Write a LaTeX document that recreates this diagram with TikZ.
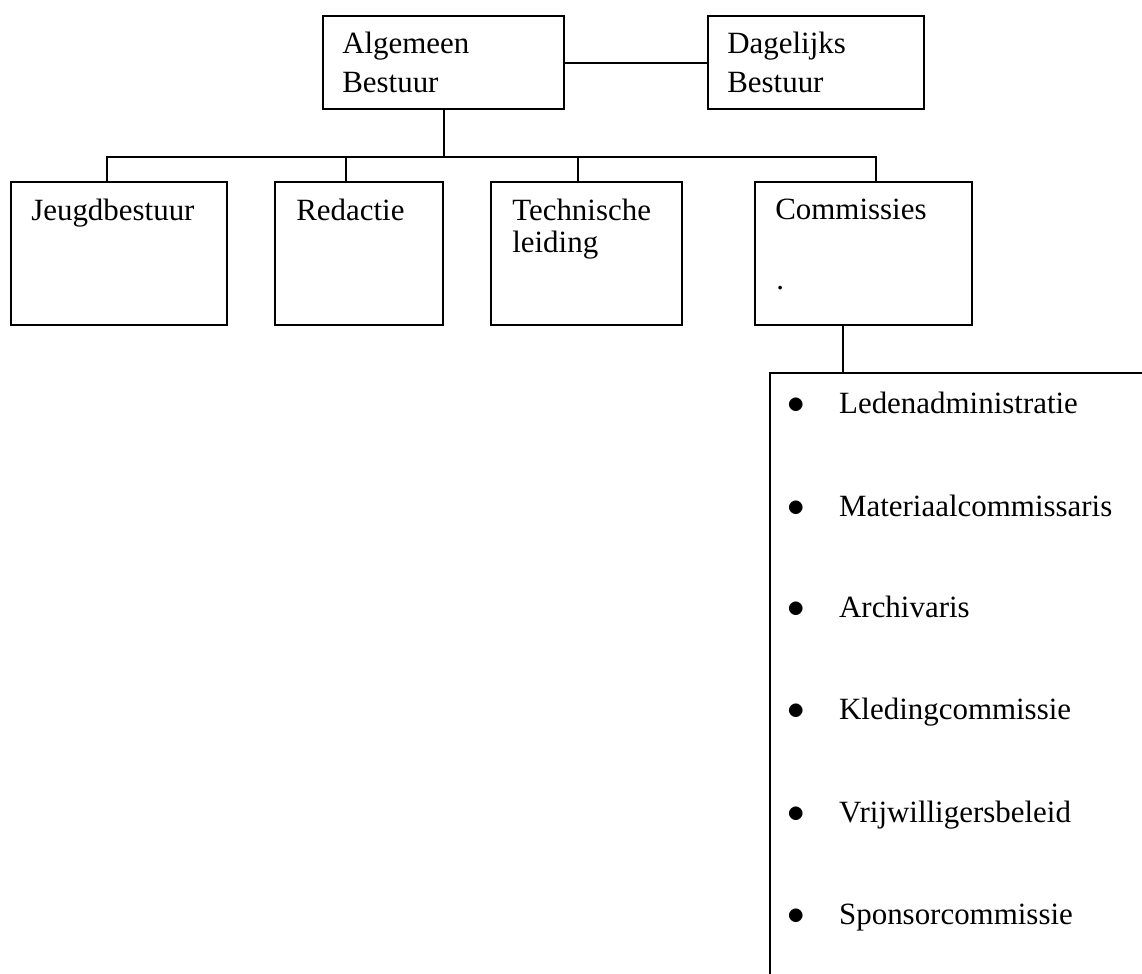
\documentclass[tikz,border=0pt]{standalone}
\usepackage{fontspec}
\setmainfont{Liberation Serif}
\usetikzlibrary{calc}
\pgfdeclarelayer{bglayer}
\pgfdeclarelayer{edgelayer}
\pgfdeclarelayer{nodelayer}
\pgfsetlayers{bglayer,edgelayer,nodelayer,main}
\tikzstyle{box}=[draw=black,line width=1.5pt,anchor=north west,inner sep=0pt]
\tikzstyle{txt}=[anchor=north west,inner sep=0pt,align=left,font=\fontsize{22pt}{27.5pt}\selectfont]
\tikzstyle{item}=[anchor=base west,inner sep=0pt,font=\fontsize{22pt}{27.5pt}\selectfont]
\tikzstyle{conn}=[draw=black,line width=1.5pt]
\tikzset{boxsize/.style 2 args={minimum width=#1*0.025cm,minimum height=#2*0.025cm}}

\begin{document}
\begin{tikzpicture}[x=0.025cm,y=-0.025cm]
        \begin{pgfonlayer}{bglayer}
            \fill [white] (0,0) rectangle (1142,973);
        \end{pgfonlayer}
        \useasboundingbox (0,0) rectangle (1142,973);

        \begin{pgfonlayer}{nodelayer}
            \node [box, boxsize={241}{93}] (ab) at (322,15) {};
            \node [box, boxsize={216}{93}] (db) at (707,15) {};
            \node [txt] (ab_txt) at (342,32) {Algemeen\\Bestuur};
            \node [txt] (db_txt) at (727,32) {Dagelijks\\Bestuur};

            \node [box, boxsize={216}{143}] (jb) at (10,181) {};
            \node [box, boxsize={168}{143}] (red) at (274,181) {};
            \node [box, boxsize={191}{143}] (tl) at (490,181) {};
            \node [box, boxsize={217}{143}] (com) at (754,181) {};
            \node [txt] (jb_txt) at (31,199) {Jeugdbestuur};
            \node [txt] (red_txt) at (296,199) {Redactie};
            \node [txt, font=\fontsize{22pt}{22.5pt}\selectfont] (tl_txt) at (512,199) {Technische\\leiding};
            \node [txt] (com_txt) at (775,199) {Commissies};
            \node [item] (com_dot) at (776,289) {.};

            % lijst loopt door tot buiten de rand
            \node [box, boxsize={450}{650}] (lijst) at (769,372) {};
            \node [item] (l1) at (787.5,413) {\makebox[36.5pt][l]{\fontsize{27pt}{27pt}\selectfont$\bullet$}Ledenadministratie};
            \node [item] (l2) at (787.5,516) {\makebox[36.5pt][l]{\fontsize{27pt}{27pt}\selectfont$\bullet$}Materiaalcommissaris};
            \node [item] (l3) at (787.5,617) {\makebox[36.5pt][l]{\fontsize{27pt}{27pt}\selectfont$\bullet$}Archivaris};
            \node [item] (l4) at (787.5,719) {\makebox[36.5pt][l]{\fontsize{27pt}{27pt}\selectfont$\bullet$}Kledingcommissie};
            \node [item] (l5) at (787.5,822) {\makebox[36.5pt][l]{\fontsize{27pt}{27pt}\selectfont$\bullet$}Vrijwilligersbeleid};
            \node [item] (l6) at (787.5,924) {\makebox[36.5pt][l]{\fontsize{27pt}{27pt}\selectfont$\bullet$}Sponsorcommissie};

            \coordinate (bus_l) at (107,157);
            \coordinate (bus_red) at (346,157);
            \coordinate (bus_tl) at (578,157);
            \coordinate (bus_r) at (876,157);
            \coordinate (com_drop) at ($(com.south west)+(89,0)$);
        \end{pgfonlayer}

        \begin{pgfonlayer}{edgelayer}
            \draw [conn] (ab.east) -- (db.west);
            \draw [conn] (ab.south) -- (ab.south |- bus_l);
            \draw [conn] (bus_l |- jb.north) -- (bus_l) -- (bus_r) -- (bus_r |- com.north);
            \draw [conn] (bus_red) -- (bus_red |- red.north);
            \draw [conn] (bus_tl) -- (bus_tl |- tl.north);
            \draw [conn] (com_drop) -- (com_drop |- lijst.north);
        \end{pgfonlayer}
    \end{tikzpicture}
\end{document}
